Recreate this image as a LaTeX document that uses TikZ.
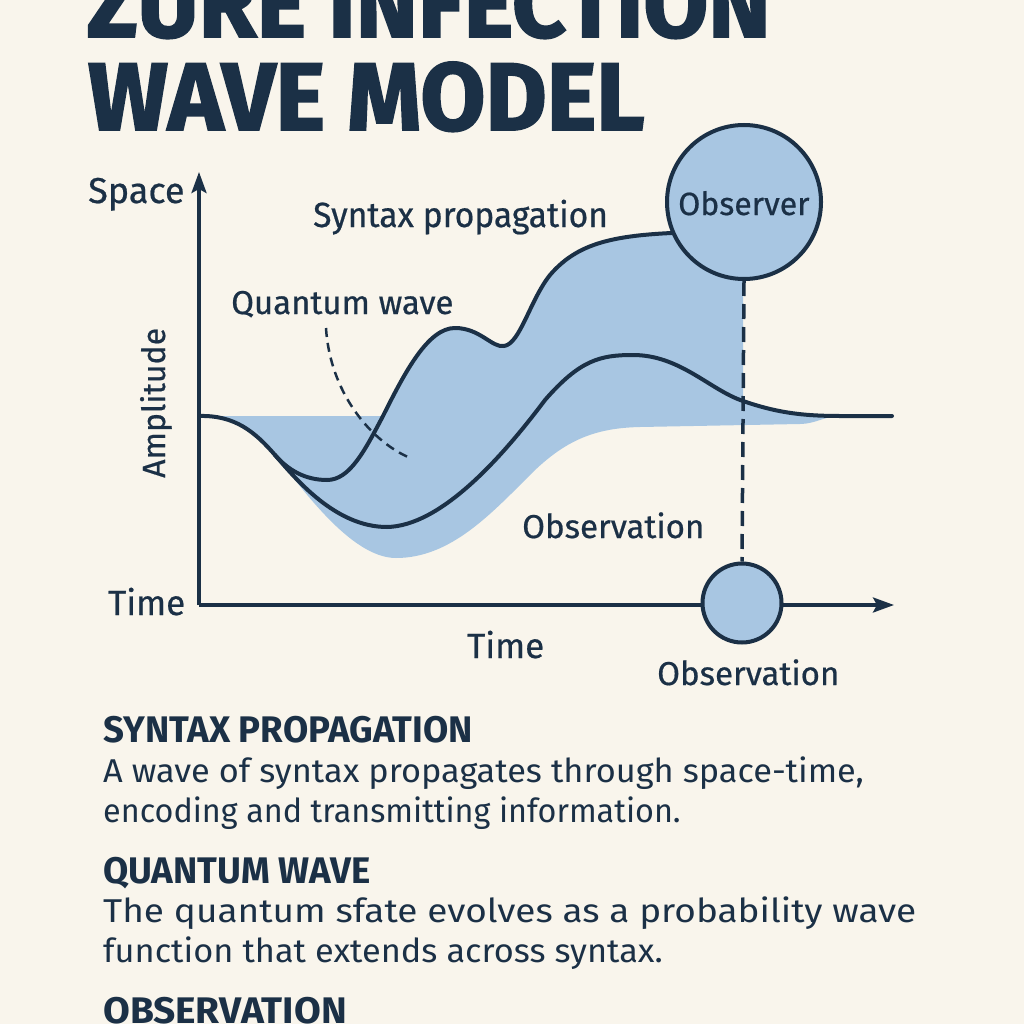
\documentclass[tikz,border=0pt]{standalone}
\usepackage{fontspec}
\setmainfont{Fira Sans}
\newfontfamily\ttlfont[BoldFeatures={FakeBold=2}]{Fira Sans}
\newfontfamily\lblfont[FakeBold=0.6]{Fira Sans}
\usetikzlibrary{arrows.meta}
\definecolor{bg}{RGB}{249,245,236}
\definecolor{navy}{RGB}{27,48,70}
\definecolor{wave}{RGB}{168,198,226}
\newcommand{\hs}[2]{\scalebox{#1}[1]{#2}}
\newcommand{\fs}[1]{\fontsize{#1}{#1}\selectfont}
\begin{document}
\begin{tikzpicture}[x=1pt,y=-1pt,
  txt/.style={inner sep=0pt, anchor=base west, text=navy},
  curve/.style={draw=navy, line width=4pt, line join=round, line cap=round},
  axis/.style={draw=navy, line width=3.5pt, -{Stealth[length=21pt,width=15pt,inset=4pt]}},
  marker/.style={circle, draw=navy, fill=wave, line width=4pt, inner sep=0pt}
]
\fill[bg] (0,0) rectangle (1024,1024);
\useasboundingbox (0,0) rectangle (1024,1024);
\clip (0,0) rectangle (1024,1024);

% title
\node[txt] (t1) at (87,37) {\resizebox{683pt}{68pt}{\ttlfont\bfseries ZURE INFECTION}};
\node[txt] (t2) at (88,130) {\resizebox{556pt}{68pt}{\ttlfont\bfseries WAVE MODEL}};

% fill
\fill[wave] (199,416) -- (383,416)
  .. controls (405,372) and (428,328) .. (455,328)
  .. controls (480,328) and (492,348) .. (504,346)
  .. controls (520,344) and (530,300) .. (550,275)
  .. controls (580,240) and (620,234) .. (690,232)
  -- (743,232) -- (743,401)
  .. controls (775,412) and (800,416) .. (840,416)
  .. controls (825,416) and (815,424) .. (800,424)
  -- (640,427)
  .. controls (595,428) and (565,440) .. (530,475)
  .. controls (490,515) and (450,558) .. (396,558)
  .. controls (350,558) and (300,485) .. (275,455)
  .. controls (255,432) and (235,415) .. (199,416) -- cycle;

% axes
\coordinate (O) at (199,605);
\coordinate (ytop) at (199,172);
\coordinate (xend) at (894,605);
\draw[axis] (O) -- (ytop);
\draw[axis] (O) -- (xend);

% lower curve
\draw[curve] (199,416)
  .. controls (235,415) and (255,432) .. (275,455)
  .. controls (295,478) and (335,527) .. (387,527)
  .. controls (440,526) and (500,460) .. (545,400)
  .. controls (580,360) and (600,355) .. (633,355)
  .. controls (680,355) and (710,390) .. (743,401)
  .. controls (775,412) and (800,416) .. (840,416)
  -- (892,416);

% upper curve
\draw[curve] (275,455)
  .. controls (288,470) and (305,480) .. (327,480)
  .. controls (350,480) and (365,450) .. (383,416)
  .. controls (405,372) and (428,328) .. (455,328)
  .. controls (480,328) and (492,348) .. (504,346)
  .. controls (520,344) and (530,300) .. (550,275)
  .. controls (580,240) and (620,234) .. (700,232);

% quantum wave pointer
\draw[navy, line width=2.5pt, dash pattern=on 9pt off 6pt] (326,328) .. controls (330,392) and (370,440) .. (408,457);

% markers
\node[marker, minimum size=154pt] (obs) at (744,202) {};
\node[marker, minimum size=79pt] (obsp) at (742,603) {};
\draw[navy, line width=3.5pt, dash pattern=on 15pt off 8pt] (obs.south) -- (obsp.north);

% labels
\node[txt, font=\lblfont\fs{32}] (lobs) at (678,215) {Observer};
\node[txt, font=\lblfont\fs{36}] (lspace) at (88,203) {Space};
\node[txt, font=\lblfont\fs{35}] (ltime) at (108,615) {Time};
\node[txt, font=\lblfont\fs{32}, rotate=90] (lamp) at (165,478) {Amplitude};
\node[txt, font=\lblfont\fs{35}] (lsyn) at (313,227) {\hs{0.96}{Syntax propagation}};
\node[txt, font=\lblfont\fs{33}] (lqw) at (231,314) {Quantum wave};
\node[txt, font=\lblfont\fs{33}] (lob1) at (522,538) {Observation};
\node[txt, font=\lblfont\fs{35}] (ltime2) at (467,658) {Time};
\node[txt, font=\lblfont\fs{33}] (lob2) at (657,685) {Observation};

% text blocks
\node[txt, font=\fs{37}\bfseries] (h1) at (103,742) {\hs{0.99}{SYNTAX PROPAGATION}};
\node[txt, font=\fs{33}] (b1) at (103,782) {\hs{1.04}{A wave of syntax propagates through space-time,}};
\node[txt, font=\fs{33}] (b2) at (103,822) {\hs{0.98}{encoding and transmitting information.}};
\node[txt, font=\fs{37}\bfseries] (h2) at (103,883) {\hs{0.99}{QUANTUM WAVE}};
\node[txt, font=\fs{33}] (b3) at (103,922) {\hs{1.12}{The quantum sfate evolves as a probability wave}};
\node[txt, font=\fs{33}] (b4) at (103,962) {\hs{1.04}{function that extends across syntax.}};
\node[txt, font=\fs{37}\bfseries] (h3) at (103,1023) {\hs{1.05}{OBSERVATION}};
\end{tikzpicture}
\end{document}
